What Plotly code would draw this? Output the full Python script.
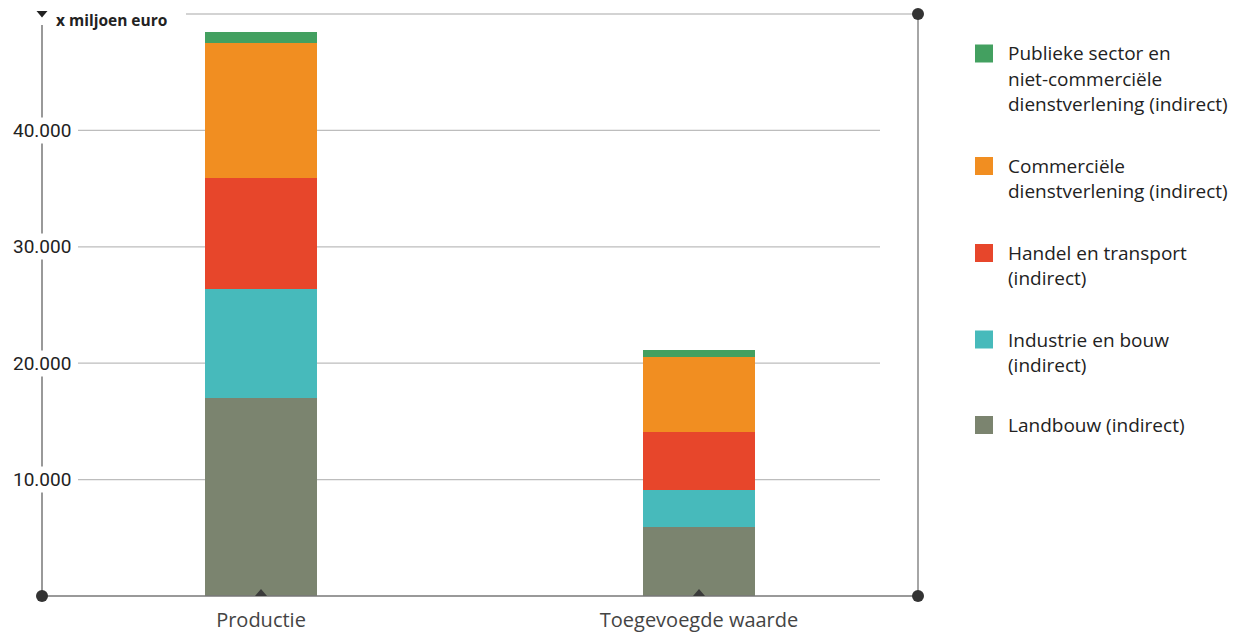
import plotly.graph_objects as go

categories = ["Productie", "Toegevoegde waarde"]

series_names = [
    "Landbouw (indirect)",
    "Industrie en bouw (indirect)",
    "Handel en transport (indirect)",
    "Commerciële dienstverlening (indirect)",
    "Publieke sector en niet-commerciële dienstverlening (indirect)",
]
legend_lines = [
    ["Landbouw (indirect)"],
    ["Industrie en bouw", "(indirect)"],
    ["Handel en transport", "(indirect)"],
    ["Commerciële", "dienstverlening (indirect)"],
    ["Publieke sector en", "niet-commerciële", "dienstverlening (indirect)"],
]
landbouw = [17050, 5950]
industrie = [9300, 3180]
handel = [9550, 4980]
commercieel = [11600, 6450]
publiek = [950, 600]

y_ticks = [10000, 20000, 30000, 40000]
y_tick_labels = ["10.000", "20.000", "30.000", "40.000"]

colors = ["#7b846f", "#47babb", "#e7462b", "#f18e21", "#43a060"]
values = [landbouw, industrie, handel, commercieel, publiek]

# page is rendered with an 8px body margin; plot area spans px 42..918 x 14..596
def px(x):
    return (x - 42) / 876

def py(y):
    return (596 - y) / 582

fig = go.Figure()
for i, (name, vals) in enumerate(zip(series_names, values)):
    fig.add_trace(go.Bar(
        x=categories, y=vals, name=name, width=0.254,
        marker=dict(color=colors[i], line=dict(width=0)),
        showlegend=False,
    ))

font = "'Open Sans', sans-serif"

shapes = []
for t in y_ticks:
    shapes.append(dict(type="line", xref="paper", yref="y", x0=px(78), x1=px(880), y0=t, y1=t,
                       line=dict(color="#bdbdbd", width=1.2), layer="below"))
shapes.append(dict(type="line", xref="paper", yref="paper", x0=0, x1=0, y0=0, y1=py(25),
                   line=dict(color="#777", width=1.5)))
shapes.append(dict(type="line", xref="paper", yref="paper", x0=0, x1=1, y0=0, y1=0,
                   line=dict(color="#777", width=1.5)))
shapes.append(dict(type="line", xref="paper", yref="paper", x0=1, x1=1, y0=0, y1=1,
                   line=dict(color="#888", width=1.5)))
shapes.append(dict(type="line", xref="paper", yref="paper", x0=px(186), x1=1, y0=1, y1=1,
                   line=dict(color="#c4c4c4", width=1.5)))
for (cx, cy) in [(0, 0), (1, 0), (1, 1)]:
    shapes.append(dict(type="circle", xref="paper", yref="paper",
                       xsizemode="pixel", ysizemode="pixel", xanchor=cx, yanchor=cy,
                       x0=-6, x1=6, y0=-6, y1=6,
                       fillcolor="#333", line=dict(width=0)))
# small markers at the foot of each bar
for c in categories:
    shapes.append(dict(type="path", xref="x", yref="paper",
                       xsizemode="pixel", ysizemode="pixel", xanchor=c, yanchor=0,
                       path="M -6 0 L 6 0 L 0 7 Z",
                       fillcolor="#3a3a3a", line=dict(width=0)))
# dropdown triangle before the unit label
shapes.append(dict(type="path", xref="paper", yref="paper",
                   xsizemode="pixel", ysizemode="pixel", xanchor=px(42), yanchor=py(14),
                   path="M -5.5 3 L 5.5 3 L 0 -3.5 Z",
                   fillcolor="#222", line=dict(width=0)))

annotations = []
for t, lab in zip(y_ticks, y_tick_labels):
    annotations.append(dict(xref="paper", yref="y", x=0, y=t, text=lab, showarrow=False,
                            xanchor="center", yanchor="middle", bgcolor="white",
                            font=dict(family="Roboto", size=19, color="#222")))
annotations.append(dict(xref="paper", yref="paper", x=px(55), y=py(8), text="<b>x miljoen euro</b>",
                        showarrow=False, xanchor="left", yanchor="top", borderpad=0,
                        font=dict(family=font, size=15.5, color="#222")))

# legend drawn by hand: square plus wrapped text lines
legend_tops = [425, 339.5, 253, 166, 53.5]
for i, lines in enumerate(legend_lines):
    cy = legend_tops[i]
    shapes.append(dict(type="rect", xref="paper", yref="paper",
                       x0=px(975), x1=px(993), y0=py(cy - 9), y1=py(cy + 9),
                       fillcolor=colors[i], line=dict(width=0)))
    for k, line in enumerate(lines):
        annotations.append(dict(xref="paper", yref="paper", x=px(1006), y=py(cy + 25 * k),
                                text=line, showarrow=False, xanchor="left", yanchor="middle",
                                font=dict(family=font, size=19, color="#222")))

fig.update_layout(
    width=1241, height=633,
    margin=dict(l=34, r=331, t=6, b=45),
    barmode="stack",
    paper_bgcolor="white", plot_bgcolor="white",
    font=dict(family=font, color="#333"),
    xaxis=dict(range=[-0.5, 1.5], showline=False, ticks="", showgrid=False,
               tickfont=dict(family=font, size=20, color="#444"), ticklabelstandoff=10),
    yaxis=dict(range=[0, 50000], showgrid=False, zeroline=False, showticklabels=False,
               showline=False),
    shapes=shapes,
    annotations=annotations,
    showlegend=False,
)

fig.write_html("out.html")
